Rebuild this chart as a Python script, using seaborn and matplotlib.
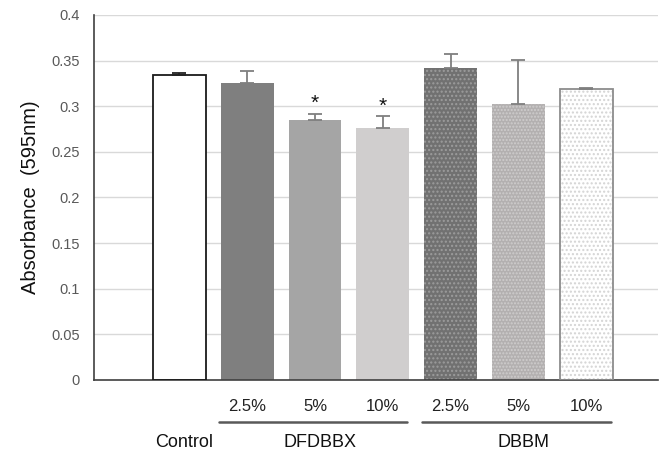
import numpy as np
import pandas as pd
import matplotlib
matplotlib.use("Agg")
import matplotlib.pyplot as plt
import matplotlib.transforms as mtransforms
from matplotlib.patches import Rectangle
import seaborn as sns

# values
bar_ids = ["Control", "DFDBBX 2.5%", "DFDBBX 5%", "DFDBBX 10%", "DBBM 2.5%", "DBBM 5%", "DBBM 10%"]
absorbance = [0.334, 0.325, 0.285, 0.276, 0.342, 0.302, 0.319]
sd_upper = [0.002, 0.014, 0.007, 0.013, 0.015, 0.049, 0.001]
significant = [False, False, True, True, False, False, False]
pct_labels = ["", "2.5%", "5%", "10%", "2.5%", "5%", "10%"]
groups = {"DFDBBX": [1, 2, 3], "DBBM": [4, 5, 6]}

face_colors = ["#ffffff", "#7f7f7f", "#a5a5a5", "#d0cece", "#717171", "#b3b0b0", "#ffffff"]
hatches = [None, None, None, None, "....", ".....", "...."]
hatch_colors = [None, None, None, None, "#9c9c9c", "#cfcdcd", "#d4d4d4"]
err_colors = ["#222222", "#7f7f7f", "#7f7f7f", "#7f7f7f", "#7f7f7f", "#7f7f7f", "#7f7f7f"]

df = pd.DataFrame({"bar": bar_ids, "abs": absorbance})

sns.set_style("white")
plt.rcParams["font.family"] = ["Liberation Sans", "DejaVu Sans"]
plt.rcParams["hatch.linewidth"] = 1.0

fig = plt.figure(figsize=(6.62, 4.54), dpi=100)
ax = fig.add_axes([0.142, 0.163, 0.852, 0.804])

sns.barplot(data=df, x="bar", y="abs", hue="bar", palette=face_colors,
            width=0.78, linewidth=0, legend=False, ax=ax)

for i, p in enumerate(ax.patches):
    if hatches[i]:
        p.set_hatch(hatches[i])
        p.set_edgecolor(hatch_colors[i])
        p.set_linewidth(0)
    if face_colors[i] == "#ffffff":
        edge = "#1a1a1a" if hatches[i] is None else "#8c8c8c"
        ax.add_patch(Rectangle((p.get_x(), p.get_y()), p.get_width(), p.get_height(),
                               fill=False, edgecolor=edge, linewidth=1.3, zorder=3))

x = np.arange(len(bar_ids))
for i in x:
    ax.errorbar(i, absorbance[i], yerr=[[0], [sd_upper[i]]], fmt="none",
                ecolor=err_colors[i], elinewidth=1.3, capsize=5, capthick=1.3, zorder=4)
    if significant[i]:
        ax.text(i, absorbance[i] + sd_upper[i] + 0.011, "*", ha="center", va="center",
                fontsize=15, color="#111111")

ax.set_ylim(0, 0.4)
ax.set_xlim(-1.26, 7.06)
ticks = np.arange(0, 0.401, 0.05)
ax.set_yticks(ticks)
ax.set_yticklabels([f"{t:g}" for t in ticks], color="#595959", fontsize=10.5)
ax.yaxis.grid(True, color="#d9d9d9", linewidth=1)
ax.set_axisbelow(True)
ax.tick_params(axis="both", length=0)
ax.tick_params(axis="y", pad=10)

ax.set_xticks(x)
ax.set_xticklabels(pct_labels, fontsize=12, color="#222222")
ax.tick_params(axis="x", pad=14)
ax.set_xlabel("")
ax.set_ylabel("Absorbance  (595nm)", fontsize=14.5, color="#111111", labelpad=8)

for s in ["top", "right"]:
    ax.spines[s].set_visible(False)
ax.spines["left"].set_color("#404040")
ax.spines["bottom"].set_color("#404040")
ax.spines["left"].set_linewidth(1.2)
ax.spines["bottom"].set_linewidth(1.2)

# group brackets and group names below the axis
trans = mtransforms.blended_transform_factory(ax.transData, ax.transAxes)
ax.text(0.07, -0.172, "Control", transform=trans, ha="center", va="center", fontsize=13, color="#111111")
for name, idx in groups.items():
    lo, hi = idx[0] - 0.42, idx[-1] + 0.36
    ax.plot([lo, hi], [-0.114, -0.114], transform=trans, color="#595959", lw=1.8, clip_on=False)
    ax.text((lo + hi) / 2 + 0.1, -0.172, name, transform=trans, ha="center", va="center",
            fontsize=13, color="#111111")

fig.savefig("out.png", dpi=100)
